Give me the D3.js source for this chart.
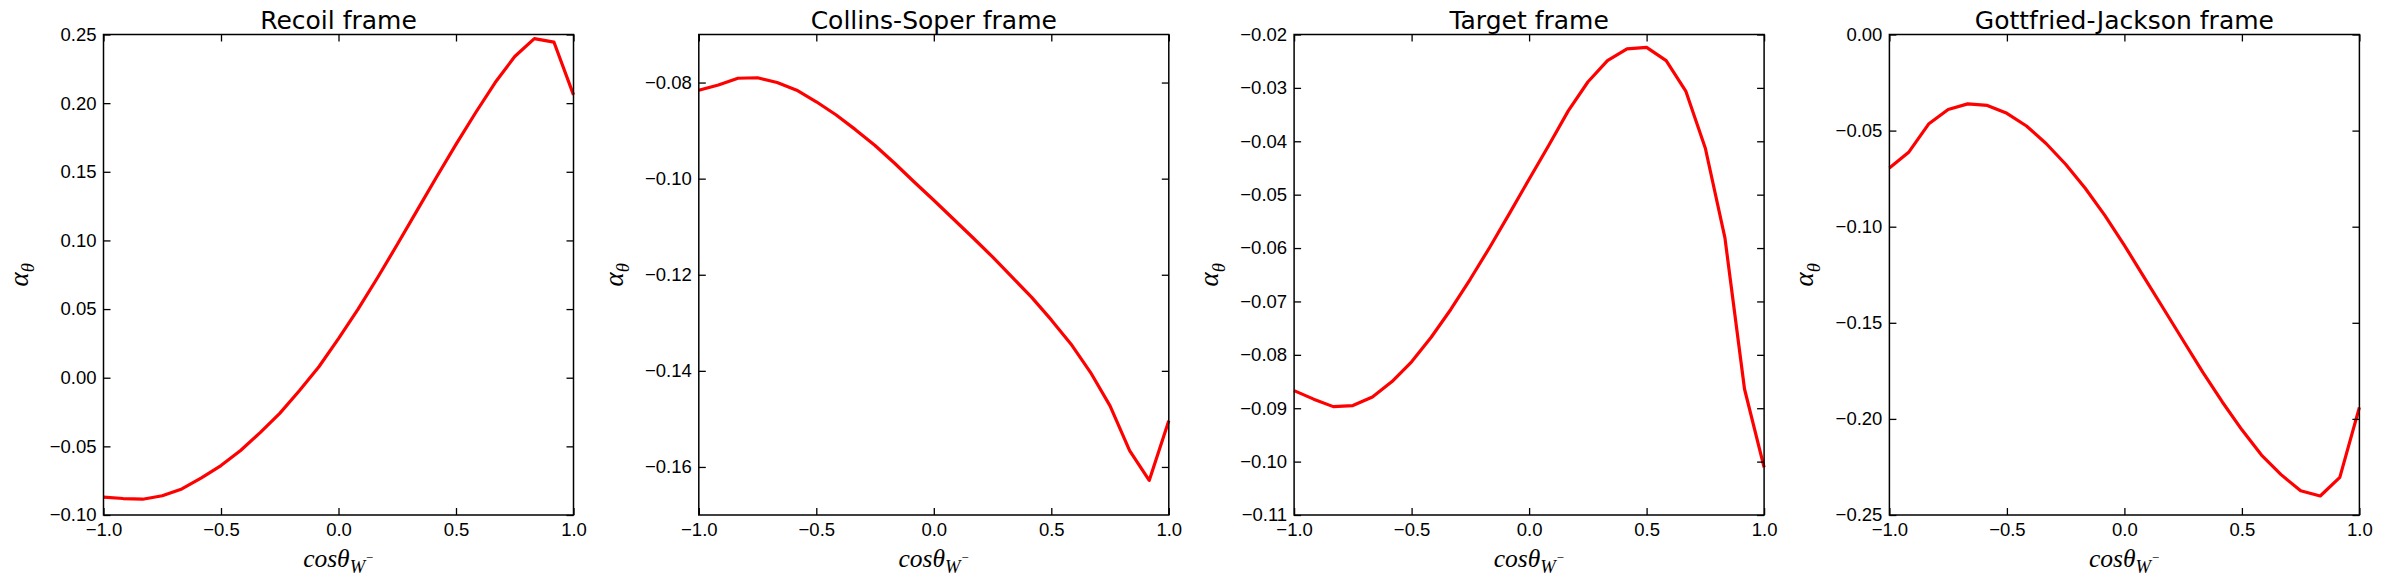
<!DOCTYPE html>
<html>
<head>
<meta charset="utf-8">
<script src="https://cdn.jsdelivr.net/npm/d3@7"></script>
<style>
  body { margin: 0; background: #fff; }
  svg { display: block; }
</style>
</head>
<body>
<svg id="mySvg"></svg>
<script>
// cos(theta) grid: 25 points, step 1/12
var cosTheta = d3.range(25).map(i => -1 + i / 12);

var recoil = [-0.087, -0.088, -0.0885, -0.086, -0.081, -0.073, -0.064, -0.053, -0.040, -0.026,
  -0.0095, 0.008, 0.0285, 0.050, 0.073, 0.097, 0.1215, 0.146, 0.170, 0.193,
  0.215, 0.234, 0.247, 0.2445, 0.206];
var collinsSoper = [-0.0816, -0.0805, -0.0791, -0.079, -0.080, -0.0816, -0.084, -0.0867, -0.0898, -0.0931,
  -0.0968, -0.1007, -0.1045, -0.1084, -0.1123, -0.1163, -0.1205, -0.1247, -0.1294, -0.1344,
  -0.1403, -0.1473, -0.1566, -0.1628, -0.1504];
var target = [-0.0867, -0.0883, -0.0897, -0.0895, -0.0879, -0.0850, -0.0813, -0.0767, -0.0715, -0.0658,
  -0.0598, -0.0535, -0.0471, -0.0408, -0.0343, -0.0289, -0.0249, -0.0227, -0.0224, -0.0249,
  -0.0306, -0.0413, -0.0581, -0.0864, -0.1011];
var gottfriedJackson = [-0.0695, -0.0611, -0.0466, -0.039, -0.0361, -0.0369, -0.041, -0.0476, -0.0567, -0.0675,
  -0.080, -0.0941, -0.1097, -0.1262, -0.1427, -0.1592, -0.1757, -0.1912, -0.2057, -0.2188,
  -0.229, -0.2374, -0.2401, -0.2304, -0.194];

var titles = ["Recoil frame", "Collins-Soper frame", "Target frame", "Gottfried-Jackson frame"];
var xTicks = [-1, -0.5, 0, 0.5, 1];
var yTicksRecoil = [-0.10, -0.05, 0, 0.05, 0.10, 0.15, 0.20, 0.25];
var yTicksCS = [-0.16, -0.14, -0.12, -0.10, -0.08];
var yTicksTarget = [-0.11, -0.10, -0.09, -0.08, -0.07, -0.06, -0.05, -0.04, -0.03, -0.02];
var yTicksGJ = [-0.25, -0.20, -0.15, -0.10, -0.05, 0];
var yDomains = [[-0.10, 0.25], [-0.17, -0.07], [-0.11, -0.02], [-0.25, 0]];

var panels = [
  {title: titles[0], values: recoil, ticks: yTicksRecoil, domain: yDomains[0]},
  {title: titles[1], values: collinsSoper, ticks: yTicksCS, domain: yDomains[1]},
  {title: titles[2], values: target, ticks: yTicksTarget, domain: yDomains[2]},
  {title: titles[3], values: gottfriedJackson, ticks: yTicksGJ, domain: yDomains[3]}
];

var width = 2383, height = 584;
var plotW = 470, plotTop = 34.5, plotBottom = 515;
var firstLeft = 103.5, step = 595.3;
var tickLen = 7;

var svg = d3.select("#mySvg")
    .attr("width", width)
    .attr("height", height)
    .attr("viewBox", [0, 0, width, height])
    .style("font-family", "'DejaVu Sans', sans-serif");

svg.append("rect").attr("width", width).attr("height", height).attr("fill", "#fff");

panels.forEach(function(p, k) {
  var left = firstLeft + k * step;
  var x = d3.scaleLinear().domain([-1, 1]).range([left, left + plotW]);
  var y = d3.scaleLinear().domain(p.domain).range([plotBottom, plotTop]);
  var g = svg.append("g");

  // line
  var line = d3.line()
      .x((d, i) => x(cosTheta[i]))
      .y(d => y(d));
  g.append("path")
      .attr("fill", "none")
      .attr("stroke", "#ff0000")
      .attr("stroke-width", 3.2)
      .attr("stroke-linejoin", "round")
      .attr("d", line(p.values));

  // axes, ticks pointing inward on all sides
  var styleAxis = function(a) {
    a.select(".domain").remove();
    a.selectAll(".tick line").attr("stroke", "#000").attr("stroke-width", 1.3);
    a.selectAll("text").attr("fill", "#000").style("font-size", "18.5px");
  };
  g.append("g")
      .attr("transform", `translate(0,${plotBottom})`)
      .call(d3.axisBottom(x).tickValues(xTicks).tickFormat(d3.format(".1f"))
        .tickSizeInner(-tickLen).tickSizeOuter(0).tickPadding(8))
      .call(styleAxis);
  g.append("g")
      .attr("transform", `translate(0,${plotTop})`)
      .call(d3.axisTop(x).tickValues(xTicks).tickFormat("")
        .tickSizeInner(-tickLen).tickSizeOuter(0))
      .call(styleAxis);
  g.append("g")
      .attr("transform", `translate(${left},0)`)
      .call(d3.axisLeft(y).tickValues(p.ticks).tickFormat(d3.format(".2f"))
        .tickSizeInner(-tickLen).tickSizeOuter(0).tickPadding(7))
      .call(styleAxis);
  g.append("g")
      .attr("transform", `translate(${left + plotW},0)`)
      .call(d3.axisRight(y).tickValues(p.ticks).tickFormat("")
        .tickSizeInner(-tickLen).tickSizeOuter(0))
      .call(styleAxis);

  // frame
  g.append("rect")
      .attr("x", left).attr("y", plotTop)
      .attr("width", plotW).attr("height", plotBottom - plotTop)
      .attr("fill", "none").attr("stroke", "#000").attr("stroke-width", 1.5);

  // title
  g.append("text")
      .attr("x", left + plotW / 2).attr("y", 29)
      .attr("text-anchor", "middle")
      .style("font-size", "25px")
      .text(p.title);

  // x label: cos theta_{W^-}
  var xl = g.append("text")
      .attr("x", left + plotW / 2).attr("y", 566.5)
      .attr("text-anchor", "middle")
      .style("font-family", "'Liberation Serif', 'DejaVu Serif', serif")
      .style("font-style", "italic")
      .style("font-size", "25.5px");
  xl.append("tspan").text("cosθ");
  xl.append("tspan").attr("dy", 6.5).style("font-size", "18.5px").text("W");
  xl.append("tspan").attr("dy", -11).style("font-size", "13px").text("−");

  // y label: alpha_theta
  var yl = g.append("text")
      .attr("transform", `translate(${left - 76},${(plotTop + plotBottom) / 2}) rotate(-90)`)
      .attr("text-anchor", "middle")
      .style("font-family", "'Liberation Serif', 'DejaVu Serif', serif")
      .style("font-style", "italic")
      .style("font-size", "27px");
  yl.append("tspan").text("α");
  yl.append("tspan").attr("dy", 6.5).style("font-size", "18.5px").text("θ");
});
</script>
</body>
</html>
